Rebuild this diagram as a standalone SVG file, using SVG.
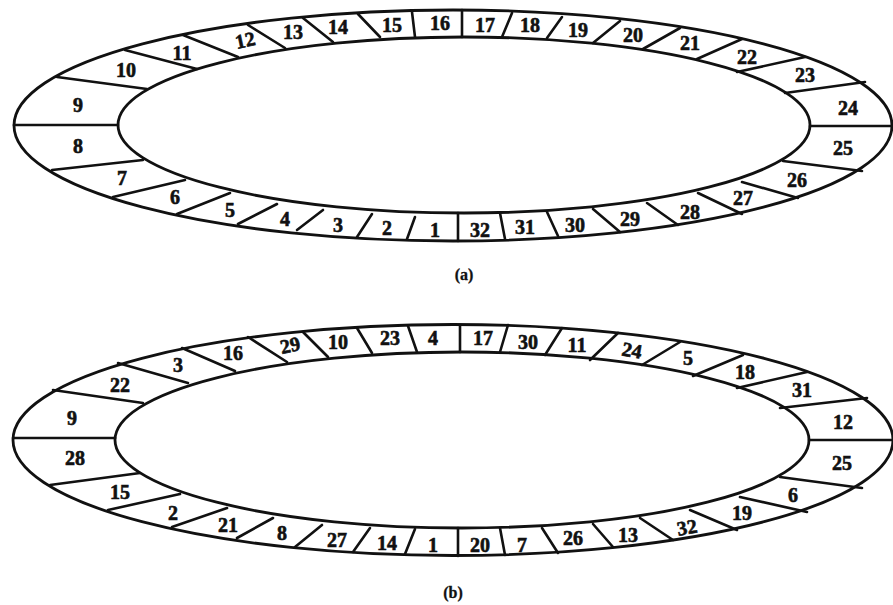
<svg xmlns="http://www.w3.org/2000/svg" width="893" height="605" viewBox="0 0 893 605">
<style>
.ring{fill:none;stroke:#111;stroke-width:2.8}
.div line{stroke:#111;stroke-width:2.6;stroke-linecap:round}
text{font-family:"Liberation Serif","Times New Roman",serif;font-weight:bold;font-size:20px;fill:#111;stroke:#111;stroke-width:0.6;text-anchor:middle}
.cap{font-size:16px;stroke-width:0.3}
</style>
<rect width="893" height="605" fill="#fff"/>
<g id="ring-a">
<ellipse class="ring" cx="453" cy="125.5" rx="439" ry="115.5"/>
<ellipse class="ring" cx="464" cy="125" rx="346" ry="88"/>
</g>
<g id="dividers-a" class="div">
<line x1="14" y1="125" x2="118" y2="125"/>
<line x1="57" y1="77" x2="147" y2="89"/>
<line x1="125" y1="50" x2="197" y2="69"/>
<line x1="183" y1="35" x2="238" y2="57"/>
<line x1="248" y1="25" x2="285" y2="48"/>
<line x1="303" y1="18" x2="333" y2="42"/>
<line x1="358" y1="14" x2="380" y2="37"/>
<line x1="412" y1="12" x2="415" y2="37"/>
<line x1="462" y1="10" x2="462" y2="37"/>
<line x1="512" y1="13" x2="502" y2="37"/>
<line x1="562" y1="17" x2="547" y2="38"/>
<line x1="620" y1="21" x2="593" y2="43"/>
<line x1="680" y1="28" x2="643" y2="49"/>
<line x1="742" y1="39" x2="697" y2="59"/>
<line x1="805" y1="57" x2="737" y2="72"/>
<line x1="865" y1="82" x2="785" y2="93"/>
<line x1="810" y1="126" x2="892" y2="126"/>
<line x1="52" y1="170" x2="143" y2="160"/>
<line x1="113" y1="197" x2="185" y2="180"/>
<line x1="177" y1="214" x2="230" y2="193"/>
<line x1="238" y1="224" x2="277" y2="204"/>
<line x1="297" y1="230" x2="323" y2="210"/>
<line x1="357" y1="237" x2="372" y2="214"/>
<line x1="407" y1="239" x2="415" y2="217"/>
<line x1="458" y1="241" x2="458" y2="213"/>
<line x1="505" y1="239" x2="500" y2="213"/>
<line x1="558" y1="236" x2="547" y2="212"/>
<line x1="620" y1="232" x2="593" y2="209"/>
<line x1="678" y1="225" x2="647" y2="203"/>
<line x1="742" y1="214" x2="698" y2="193"/>
<line x1="798" y1="198" x2="742" y2="182"/>
<line x1="862" y1="171" x2="783" y2="161"/>
</g>
<g id="a-seg-9"><text x="78" y="112">9</text></g>
<g id="a-seg-10"><text x="126" y="77">10</text></g>
<g id="a-seg-11"><text x="182" y="60">11</text></g>
<g id="a-seg-12"><text x="245" y="47" transform="rotate(-12 245 40)">12</text></g>
<g id="a-seg-13"><text x="293" y="39">13</text></g>
<g id="a-seg-14"><text x="338" y="34">14</text></g>
<g id="a-seg-15"><text x="392" y="32">15</text></g>
<g id="a-seg-16"><text x="440" y="30">16</text></g>
<g id="a-seg-17"><text x="485" y="32">17</text></g>
<g id="a-seg-18"><text x="530" y="32">18</text></g>
<g id="a-seg-19"><text x="578" y="37">19</text></g>
<g id="a-seg-20"><text x="633" y="42">20</text></g>
<g id="a-seg-21"><text x="690" y="50">21</text></g>
<g id="a-seg-22"><text x="747" y="64">22</text></g>
<g id="a-seg-23"><text x="805" y="82">23</text></g>
<g id="a-seg-24"><text x="848" y="115">24</text></g>
<g id="a-seg-25"><text x="843" y="155">25</text></g>
<g id="a-seg-26"><text x="797" y="187">26</text></g>
<g id="a-seg-27"><text x="743" y="205">27</text></g>
<g id="a-seg-28"><text x="690" y="219">28</text></g>
<g id="a-seg-29"><text x="630" y="226">29</text></g>
<g id="a-seg-30"><text x="575" y="232">30</text></g>
<g id="a-seg-31"><text x="525" y="234">31</text></g>
<g id="a-seg-32"><text x="480" y="237">32</text></g>
<g id="a-seg-1"><text x="435" y="237">1</text></g>
<g id="a-seg-2"><text x="387" y="235">2</text></g>
<g id="a-seg-3"><text x="338" y="232">3</text></g>
<g id="a-seg-4"><text x="285" y="226">4</text></g>
<g id="a-seg-5"><text x="230" y="217">5</text></g>
<g id="a-seg-6"><text x="175" y="204">6</text></g>
<g id="a-seg-7"><text x="122" y="185">7</text></g>
<g id="a-seg-8"><text x="78" y="153">8</text></g>
<g id="caption-a"><text class="cap" x="464" y="280">(a)</text></g>

<g id="ring-b">
<ellipse class="ring" cx="453" cy="440" rx="440" ry="115.5"/>
<ellipse class="ring" cx="462" cy="440" rx="347" ry="88"/>
</g>
<g id="dividers-b" class="div">
<line x1="13" y1="438" x2="115" y2="438"/>
<line x1="53" y1="390" x2="143" y2="403"/>
<line x1="118" y1="363" x2="188" y2="383"/>
<line x1="182" y1="348" x2="235" y2="371"/>
<line x1="248" y1="337" x2="287" y2="362"/>
<line x1="303" y1="332" x2="328" y2="357"/>
<line x1="357" y1="328" x2="372" y2="353"/>
<line x1="408" y1="326" x2="417" y2="352"/>
<line x1="460" y1="325" x2="460" y2="352"/>
<line x1="508" y1="325" x2="500" y2="352"/>
<line x1="562" y1="328" x2="545" y2="355"/>
<line x1="618" y1="333" x2="590" y2="360"/>
<line x1="680" y1="342" x2="642" y2="365"/>
<line x1="743" y1="355" x2="693" y2="376"/>
<line x1="807" y1="372" x2="737" y2="388"/>
<line x1="867" y1="398" x2="780" y2="408"/>
<line x1="809" y1="440" x2="892" y2="440"/>
<line x1="50" y1="485" x2="140" y2="473"/>
<line x1="108" y1="510" x2="180" y2="494"/>
<line x1="172" y1="527" x2="227" y2="508"/>
<line x1="237" y1="538" x2="273" y2="518"/>
<line x1="295" y1="547" x2="322" y2="525"/>
<line x1="353" y1="552" x2="370" y2="528"/>
<line x1="405" y1="554" x2="415" y2="529"/>
<line x1="458" y1="556" x2="458" y2="528"/>
<line x1="505" y1="555" x2="500" y2="528"/>
<line x1="558" y1="553" x2="542" y2="528"/>
<line x1="613" y1="547" x2="593" y2="524"/>
<line x1="673" y1="540" x2="640" y2="518"/>
<line x1="737" y1="530" x2="690" y2="510"/>
<line x1="807" y1="512" x2="740" y2="497"/>
<line x1="862" y1="488" x2="780" y2="477"/>
</g>
<g id="b-seg-9"><text x="72" y="425">9</text></g>
<g id="b-seg-22"><text x="120" y="392">22</text></g>
<g id="b-seg-3"><text x="178" y="372">3</text></g>
<g id="b-seg-16"><text x="233" y="360">16</text></g>
<g id="b-seg-29"><text x="290" y="352" transform="rotate(-12 290 345)">29</text></g>
<g id="b-seg-10"><text x="338" y="349">10</text></g>
<g id="b-seg-23"><text x="390" y="345">23</text></g>
<g id="b-seg-4"><text x="433" y="345">4</text></g>
<g id="b-seg-17"><text x="483" y="345">17</text></g>
<g id="b-seg-30"><text x="528" y="349">30</text></g>
<g id="b-seg-11"><text x="577" y="352">11</text></g>
<g id="b-seg-24"><text x="632" y="357" transform="rotate(10 632 350)">24</text></g>
<g id="b-seg-5"><text x="688" y="365">5</text></g>
<g id="b-seg-18"><text x="745" y="379">18</text></g>
<g id="b-seg-31"><text x="802" y="397">31</text></g>
<g id="b-seg-12"><text x="843" y="429">12</text></g>
<g id="b-seg-25"><text x="842" y="470">25</text></g>
<g id="b-seg-6"><text x="793" y="502">6</text></g>
<g id="b-seg-19"><text x="742" y="520">19</text></g>
<g id="b-seg-32"><text x="687" y="534" transform="rotate(-10 687 527)">32</text></g>
<g id="b-seg-13"><text x="628" y="542">13</text></g>
<g id="b-seg-26"><text x="573" y="545">26</text></g>
<g id="b-seg-7"><text x="522" y="552">7</text></g>
<g id="b-seg-20"><text x="480" y="552">20</text></g>
<g id="b-seg-1"><text x="433" y="552">1</text></g>
<g id="b-seg-14"><text x="387" y="550">14</text></g>
<g id="b-seg-27"><text x="337" y="547">27</text></g>
<g id="b-seg-8"><text x="282" y="540">8</text></g>
<g id="b-seg-21"><text x="228" y="532">21</text></g>
<g id="b-seg-2"><text x="173" y="520">2</text></g>
<g id="b-seg-15"><text x="120" y="499">15</text></g>
<g id="b-seg-28"><text x="75" y="465">28</text></g>
<g id="caption-b"><text class="cap" x="453" y="598">(b)</text></g>
</svg>
